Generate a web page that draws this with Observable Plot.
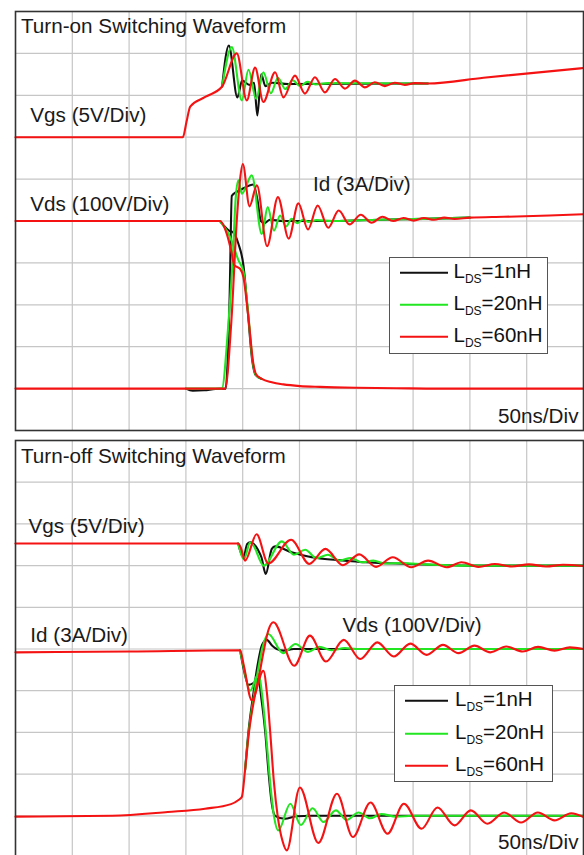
<!DOCTYPE html>
<html>
<head>
<meta charset="utf-8">
<script src="https://cdn.jsdelivr.net/npm/d3@7"></script>
<script src="https://cdn.jsdelivr.net/npm/@observablehq/plot@0.6"></script>
<style>
  html, body { margin: 0; padding: 0; background: #fff; }
  #wrap { position: relative; width: 584px; font-family: "Liberation Sans", Arial, sans-serif; }
  #wrap svg { display: block; }
  .legend { position: absolute; background: #fff; border: 1px solid #555; box-sizing: border-box; }
  .legend .row { position: absolute; left: 0; height: 0; }
  .legend .sw { position: absolute; height: 0; border-top: 2.5px solid; transform: translateY(-1.25px); }
  .legend .lab { position: absolute; font-size: 20.5px; color: #111; transform: translateY(-58%); white-space: nowrap; line-height: 1; }
  .legend .lab sub { font-size: 12px; vertical-align: -5px; line-height: 0; }
</style>
</head>
<body>
<div id="wrap"></div>
<script>
// ---------- data: time in ns (50 ns / div), amplitude in divisions ----------
const seriesNames = ["1nH", "20nH", "60nH"];
const seriesColors = ["#111111", "#22e622", "#f51212"];
const gridT = [50, 100, 150, 200, 250, 300, 350, 400, 450];
const gridDiv = [1, 2, 3, 4, 5, 6, 7, 8, 9];

// Turn-on : Vgs
const onVgsPre = [[0, 7.0], [147.3, 7.0], [150.5, 7.36], [153.8, 7.73], [167, 7.96], [181.9, 8.21]];
const onVgsTail = [[363, 8.28], [412, 8.42], [500, 8.65]];
const onVgs1 = [[187.8, 9.19], [195.3, 7.95], [199.5, 8.35], [206, 8.25], [210, 8.3], [212.9, 7.52], [216.3, 8.5], [220, 8.22], [226, 8.3], [240, 8.27]];
const onVgs20 = [[190.4, 9.15], [199.2, 7.88], [205.1, 8.61], [211.8, 7.92], [218.2, 8.55], [224.8, 8.05], [231, 8.42], [237.5, 8.15], [244, 8.36], [250.5, 8.22], [257, 8.32], [264, 8.26], [275, 8.29]];
const onVgs60 = [[194.8, 9.0], [203.6, 7.88], [210.9, 8.66], [218.2, 7.84], [228.5, 8.55], [235.8, 7.95], [246, 8.47], [254.8, 8.04], [263.6, 8.43], [272.4, 8.07], [281.2, 8.39], [290, 8.16], [298.8, 8.35], [307.6, 8.19], [316.3, 8.31], [325.1, 8.22], [333.9, 8.3], [342.7, 8.25], [351.5, 8.29]];

// Turn-on : Vds
const onVdsPre = [[0, 5.0], [180, 5.0]];
const onVdsTail = [[216.8, 1.23], [225.6, 1.15], [235.8, 1.1], [250.4, 1.06], [268, 1.04], [300, 1.02], [335, 1.01], [372, 1.0], [500, 1.0]];
const onVds1 = [[188, 4.77], [191.4, 4.73], [196.3, 4.45], [200.6, 3.95], [204.3, 2.9], [208.5, 1.65], [211.3, 1.33]];
const onVds20 = [[189, 4.61], [196.3, 4.06], [200.6, 3.8], [204.5, 2.9], [208.8, 1.65], [211.5, 1.33]];
const onVds60 = [[186, 4.69], [190.4, 4.22], [192.5, 3.95], [197.7, 3.86], [200.6, 3.66], [205, 2.7], [209.4, 1.59], [211.8, 1.34]];

// Turn-on : Id
const onIdPre = [[0, 1.0], [150, 1.0]];
const onIdTail = [[400, 5.08], [430, 5.1], [470, 5.13], [500, 5.16]];
const onId1 = [[156, 0.95], [166, 0.96], [176, 0.99], [185, 1.0], [186.5, 1.5], [188.5, 3.2], [190.4, 5.6], [195, 5.7], [200.6, 5.78], [209.4, 5.87], [213, 5.5], [216, 5.0], [219, 4.95], [224, 5.03], [235, 5.0], [280, 5.0], [320, 5.03], [360, 5.05]];
const onId20 = [[181.6, 1.0], [187, 2.4], [191, 4.0], [194, 5.6], [196.3, 5.97], [199.2, 5.65], [208, 6.09], [216.8, 4.69], [222, 5.33], [227.6, 4.77], [232.9, 5.13], [238.1, 4.87], [243.1, 5.05], [248, 4.95], [253, 5.03], [258, 4.98], [265, 5.02], [280, 5.0], [320, 5.03], [360, 5.05]];
const onId60 = [[184.5, 1.0], [190, 2.6], [195, 5.1], [197.7, 6.0], [200.1, 6.36], [206, 5.35], [212.5, 5.85], [221.5, 4.4], [231, 5.57], [240.5, 4.58], [249, 5.42], [257.5, 4.8], [266, 5.37], [275.3, 4.84], [284.5, 5.25], [294, 4.92], [304, 5.15], [313.5, 4.96], [323, 5.1], [332.5, 5.0], [341.5, 5.07], [350.5, 5.01], [359.5, 5.07], [368.5, 5.03], [377.5, 5.08], [386.5, 5.05]];

// Turn-off : Vgs
const offVgsPre = [[0, 7.53], [196, 7.53]];
const offVgs1 = [[200.6, 7.2], [204, 7.52], [206.5, 7.56], [213.8, 7.36], [216.5, 7.2], [220.3, 6.8], [225.6, 7.4], [228.5, 7.46], [243.1, 7.32], [257.7, 7.22], [272.4, 7.16], [290, 7.12], [307.6, 7.08], [346.8, 7.04], [400, 7.0], [500, 7.0]];
const offVgs20 = [[201.2, 7.16], [206.5, 7.55], [209, 7.5], [218.5, 7.0], [234.5, 7.58], [245, 7.26], [255, 7.38], [265, 7.18], [275, 7.26], [285, 7.12], [295, 7.18], [305, 7.08], [315, 7.12], [325, 7.05], [340, 7.06], [360, 7.03], [400, 7.0], [500, 7.0]];
const offVgs60 = [[198.5, 7.42], [202.1, 7.12], [212.2, 7.75], [222.5, 7.05], [242.6, 7.62], [258.6, 7.04], [272.8, 7.4], [288.2, 7.01], [302.6, 7.27], [317.4, 6.97], [332.1, 7.2], [348.4, 6.96], [363.2, 7.12], [379.6, 6.96], [392.6, 7.08], [407.5, 6.97], [422, 7.04], [437, 6.98], [452, 7.03], [467, 6.98], [482, 7.02], [500, 6.99]];

// Turn-off : Vds
const offVdsPre = [[0, 0.98], [85, 1.0], [134, 1.09], [166.8, 1.17], [189.7, 1.28], [196.3, 1.38], [199.2, 1.45], [202.1, 2.1]];
const offVds1 = [[205, 3.0], [209.5, 3.95], [213, 4.6], [217, 5.1], [221.2, 5.22], [226, 5.08], [230, 5.0], [236, 4.96], [245, 5.0], [500, 5.0]];
const offVds20 = [[205.3, 3.0], [210, 3.9], [213.5, 4.5], [217.5, 5.05], [222.6, 5.36], [235.5, 4.9], [246.5, 5.12], [257.5, 4.93], [267.5, 5.05], [278, 4.97], [290, 5.02], [300, 5.0], [500, 5.0]];
const offVds60 = [[205.5, 3.0], [210.5, 3.85], [214, 4.3], [218.5, 4.95], [222.6, 5.45], [227, 5.64], [245.4, 4.6], [259.2, 5.32], [273.3, 4.7], [289, 5.22], [303.5, 4.76], [318.5, 5.16], [333, 4.82], [347.5, 5.13], [362, 4.86], [376.3, 5.1], [390, 4.9], [404, 5.08], [418, 4.92], [432, 5.06], [446.5, 4.94], [460, 5.05], [474.5, 4.96], [488, 5.04], [500, 5.0]];

// Turn-off : Id
const offIdPre = [[0, 4.92], [100, 4.94], [197.7, 4.97]];
const offId1 = [[201, 4.5], [205, 4.14], [209.4, 4.18], [213.8, 4.29], [216.5, 3.8], [219.7, 3.05], [222.6, 2.09], [225.6, 1.29], [228.5, 1.0], [237, 0.93], [247.5, 0.99], [260, 1.0], [500, 1.0]];
const offId20 = [[201, 4.55], [206.5, 4.0], [213.8, 4.4], [217.5, 3.8], [221, 2.8], [224.5, 1.7], [227.5, 1.0], [231.4, 0.65], [241.9, 1.29], [251.2, 0.78], [261.5, 1.18], [271.2, 0.85], [282, 1.13], [291.5, 0.9], [302, 1.08], [312, 0.94], [322, 1.04], [335, 0.98], [350, 1.0], [500, 1.0]];
const offId60 = [[201, 4.6], [208, 3.77], [218.2, 4.48], [221.5, 3.9], [224.5, 2.9], [227.5, 1.8], [231, 0.95], [235, 0.4], [238.8, 0.17], [250.3, 1.68], [266.6, 0.35], [283, 1.53], [297, 0.49], [312.5, 1.32], [327.5, 0.57], [341.9, 1.29], [357.5, 0.69], [371.4, 1.2], [386.5, 0.77], [400.8, 1.13], [415.5, 0.81], [430.3, 1.08], [445, 0.84], [459.8, 1.08], [474.5, 0.89], [489.2, 1.06], [500, 0.97]];

// labels: [text, t (ns), level (div), anchor]
const onLabels = [
  ["Turn-on Switching Waveform", 4.8, 9.64, "start"],
  ["Vgs (5V/Div)", 13.0, 7.51, "start"],
  ["Vds (100V/Div)", 13.0, 5.39, "start"],
  ["Id (3A/Div)", 261.9, 5.88, "start"],
  ["50ns/Div", 495.6, 0.33, "end"]
];
const offLabels = [
  ["Turn-off Switching Waveform", 4.8, 9.63, "start"],
  ["Vgs (5V/Div)", 11.4, 7.95, "start"],
  ["Id (3A/Div)", 13.0, 5.32, "start"],
  ["Vds (100V/Div)", 287.9, 5.56, "start"],
  ["50ns/Div", 495.6, 0.36, "end"]
];

// ---------- build traces ----------
// The shared flat parts are drawn once, in the top (red) trace; the others start/end at the joints.
function traces(groups) {
  const rows = [];
  groups.forEach(([pre, parts, tail]) => {
    parts.forEach((part, i) => {
      const top = i === parts.length - 1;
      const head = top ? pre : pre.slice(-1);
      const end = tail && tail.length ? (top ? tail : tail.slice(0, 1)) : [];
      rows.push({order: i, pts: [...head, ...part, ...end]});
    });
  });
  return rows;
}
const onTraces = traces([
  [onVgsPre, [onVgs1, onVgs20, onVgs60], onVgsTail],
  [onVdsPre, [onVds1, onVds20, onVds60], onVdsTail],
  [onIdPre, [onId1, onId20, onId60], onIdTail]
]);
const offTraces = traces([
  [offVgsPre, [offVgs1, offVgs20, offVgs60], []],
  [offVdsPre, [offVds1, offVds20, offVds60], []],
  [offIdPre, [offId1, offId20, offId60], []]
]);

function panel(tr, labels, opts) {
  const marks = [
    Plot.ruleX(gridT, {stroke: "#c6c6c6", strokeWidth: 1.2}),
    Plot.ruleY(gridDiv, {stroke: "#c6c6c6", strokeWidth: 1.2})
  ];
  [0, 1, 2].forEach(k => {
    tr.filter(d => d.order === k).forEach(d => {
      marks.push(Plot.line(d.pts, {x: p => p[0], y: p => p[1], stroke: seriesColors[k], strokeWidth: 2.1, curve: "monotone-x"}));
    });
  });
  marks.push(Plot.frame({stroke: "#333", strokeWidth: 1.6}));
  labels.forEach(l => {
    marks.push(Plot.text([l], {x: d => d[1], y: d => d[2], text: d => d[0], textAnchor: l[3], lineAnchor: "middle", fontSize: 20.7, fill: "#1a1a1a", fontFamily: "Liberation Sans, Arial, sans-serif"}));
  });
  return Plot.plot({
    width: 584,
    height: opts.height,
    marginTop: opts.mt, marginBottom: opts.mb, marginLeft: 15, marginRight: 1,
    x: {domain: [0, 500], axis: null},
    y: {domain: [0, 10], axis: null},
    style: {background: "#fff", fontFamily: "Liberation Sans, Arial, sans-serif"},
    marks
  });
}

function legend(box) {
  const el = document.createElement("div");
  el.className = "legend";
  Object.assign(el.style, {left: box.left + "px", top: box.top + "px", width: box.w + "px", height: box.h + "px"});
  seriesNames.forEach((name, i) => {
    const row = document.createElement("div");
    row.className = "row";
    row.style.top = box.rows[i] + "px";
    row.innerHTML = `<div class="sw" style="left:${box.lx}px;width:${box.lw}px;border-color:${seriesColors[i]}"></div>` +
      `<div class="lab" style="left:${box.tx}px">L<sub>DS</sub>=${name}</div>`;
    el.appendChild(row);
  });
  return el;
}

const wrap = document.getElementById("wrap");
wrap.appendChild(panel(onTraces, onLabels, {height: 435, mt: 11, mb: 5}));
wrap.appendChild(panel(offTraces, offLabels, {height: 427, mt: 5, mb: 5}));
wrap.appendChild(legend({left: 389, top: 257, w: 159, h: 97, rows: [14.5, 46.5, 78.5], lx: 9.5, lw: 48, tx: 63.5}));
wrap.appendChild(legend({left: 394, top: 685, w: 159, h: 97, rows: [15, 47.5, 80], lx: 10, lw: 43, tx: 60}));
</script>
</body>
</html>
